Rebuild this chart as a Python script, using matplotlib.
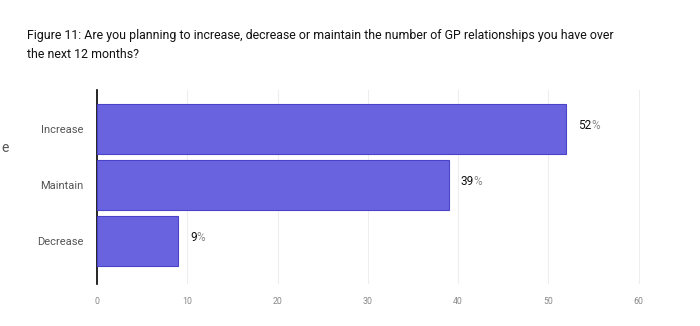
import matplotlib.pyplot as plt

categories = ["Increase", "Maintain", "Decrease"]
values = [52, 39, 9]
xticks = [0, 10, 20, 30, 40, 50, 60]

plt.rcParams['font.family'] = ['Roboto', 'DejaVu Sans']

fig = plt.figure(figsize=(7, 3.26), dpi=100)
ax = fig.add_axes([97/700, 1 - 284/326, (645 - 97)/700, (284 - 90)/326])

ypos = range(len(categories))
ax.barh(ypos, values, height=0.9, color="#6a63e0", edgecolor="#4a44c8", linewidth=0.8, zorder=3)

# value labels: number dark, percent sign grey
for y, v in zip(ypos, values):
    x0 = v + 1.3
    t = ax.text(x0, y - 0.07, str(v), va="center", ha="left", fontsize=8.5,
                color="#111111", fontweight="normal")
    fig.canvas.draw()
    bb = t.get_window_extent().transformed(ax.transData.inverted())
    ax.text(bb.x1 + 0.1, y - 0.07, "%", va="center", ha="left", fontsize=8.5, color="#888888")

ax.set_xlim(0, 60.7)
ax.set_ylim(2.77, -0.7)
ax.set_yticks(list(ypos))
ax.set_yticklabels(categories, fontsize=8, color="#555555")
ax.set_xticks(xticks)
ax.set_xticklabels([str(x) for x in xticks], fontsize=6.3, color="#888888")
ax.tick_params(axis="both", length=0)
ax.tick_params(axis="x", pad=9)
ax.tick_params(axis="y", pad=10)

for s in ["top", "right", "bottom"]:
    ax.spines[s].set_visible(False)
ax.spines["left"].set_color("black")
ax.spines["left"].set_linewidth(1.2)

for x in xticks[1:]:
    ax.axvline(x, color="#eeeeee", linewidth=0.8, zorder=0)

fig.text(27/700, 1 - 35/326,
         "Figure 11: Are you planning to increase, decrease or maintain the number of GP relationships you have over",
         fontsize=8.9, color="#111111", va="center", ha="left")
fig.text(27/700, 1 - 54/326, "the next 12 months?",
         fontsize=8.9, color="#111111", va="center", ha="left")
fig.text(9/700, 1 - 148/326, "e", fontsize=10, color="#555555", va="center", ha="right")

fig.savefig("out.png", dpi=100, facecolor="white")
